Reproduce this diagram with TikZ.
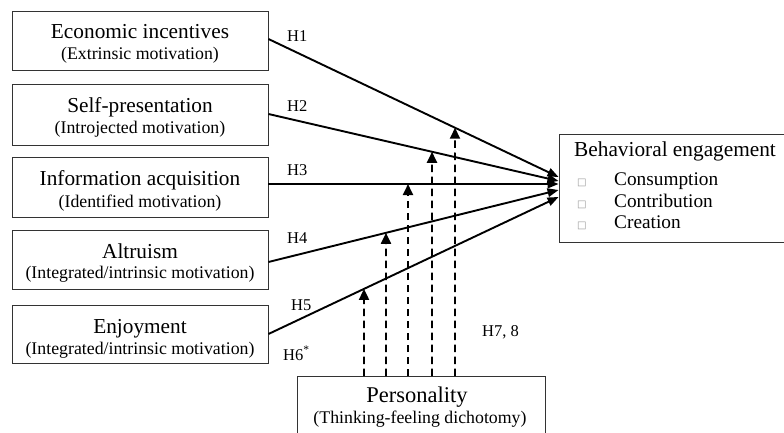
\documentclass[tikz,border=0pt]{standalone}
\usepackage{fontspec}
\setmainfont{Liberation Serif}
\newfontfamily\symfont{DejaVu Sans}
\usetikzlibrary{arrows.meta,calc}
\tikzset{
  box/.style={draw=black!80, line width=0.9pt, rectangle, inner sep=0pt},
  maintxt/.style={anchor=base, font=\fontsize{21.3}{24}\selectfont, inner sep=0pt},
  subtxt/.style={anchor=base, font=\fontsize{17.8}{20}\selectfont, inner sep=0pt},
  itemtxt/.style={anchor=base west, font=\fontsize{19.3}{22}\selectfont, inner sep=0pt},
  sqtxt/.style={anchor=base west, font=\symfont\fontsize{10}{12}\selectfont, text=black!40, inner sep=0pt},
  hlab/.style={anchor=base west, font=\fontsize{16.5}{18}\selectfont, inner sep=0pt},
  effect/.style={line width=1.9pt, -{Triangle[length=11pt,width=8.5pt]}},
  modarrow/.style={line width=1.9pt, dash pattern=on 7.5pt off 4.5pt, -{Triangle[length=11pt,width=10pt]}},
}
\begin{document}
\begin{tikzpicture}[x=1pt,y=-1pt]
\useasboundingbox (0,0) rectangle (784,433);
\clip (0,0) rectangle (784,433);

% left boxes
\node[box, minimum width=256pt, minimum height=59pt] (e1) at (140,40.5) {};
\node[box, minimum width=256pt, minimum height=61pt] (e2) at (140,114.5) {};
\node[box, minimum width=256pt, minimum height=60pt] (e3) at (140,187) {};
\node[box, minimum width=256pt, minimum height=59pt] (e4) at (140,259.5) {};
\node[box, minimum width=256pt, minimum height=58pt] (e5) at (140,334) {};

\node[maintxt] (m1) at (140,39) {Economic incentives};
\node[subtxt]  (n1) at (140,60) {(Extrinsic motivation)};
\node[maintxt] (m2) at (140,113) {Self-presentation};
\node[subtxt]  (n2) at (140,134) {(Introjected motivation)};
\node[maintxt] (m3) at (140,185) {Information acquisition};
\node[subtxt]  (n3) at (140,207) {(Identified motivation)};
\node[maintxt] (m4) at (140,258) {Altruism};
\node[subtxt]  (n4) at (140,278) {(Integrated/intrinsic motivation)};
\node[maintxt] (m5) at (140,333) {Enjoyment};
\node[subtxt]  (n5) at (140,354) {(Integrated/intrinsic motivation)};

% outcome box
\node[box, minimum width=241pt, minimum height=108pt] (b) at (679.5,188) {};
\node[maintxt, anchor=base west] (bt) at (574,157) {Behavioral engagement};
\node[sqtxt] (q1) at (577,185) {□};
\node[sqtxt] (q2) at (577,207) {□};
\node[sqtxt] (q3) at (577,228) {□};
\node[itemtxt] (i1) at (614,185) {Consumption};
\node[itemtxt] (i2) at (614,207) {Contribution};
\node[itemtxt] (i3) at (614,228) {Creation};

% personality box
\node[box, minimum width=248pt, minimum height=74pt] (p) at (421,413) {};
\node[maintxt, font=\fontsize{22.5}{24}\selectfont] (pt) at (417,402) {Personality};
\node[subtxt] (ps) at (420,423) {(Thinking-feeling dichotomy)};

% start / end points of the direct effects
\coordinate (s1) at ($(e1.east)+(0,-1.5)$);
\coordinate (s2) at ($(e2.east)+(0,-0.5)$);
\coordinate (s3) at ($(e3.east)+(0,-3)$);
\coordinate (s4) at ($(e4.east)+(0,2.5)$);
\coordinate (s5) at (e5.east);
\coordinate (t1) at ($(b.west)+(0,-11)$);
\coordinate (t2) at ($(b.west)+(0,-7)$);
\coordinate (t3) at ($(b.west)+(0,-4)$);
\coordinate (t4) at ($(b.west)+(0,2)$);
\coordinate (t5) at ($(b.west)+(0,9)$);

\draw[effect] (s1) -- (t1);
\draw[effect] (s2) -- (t2);
\draw[effect] (s3) -- (t3);
\draw[effect] (s4) -- (t4);
\draw[effect] (s5) -- (t5);

% moderation arrows
\coordinate (d1) at (364,376); \coordinate (u1) at (364,0);
\coordinate (d2) at (386,376); \coordinate (u2) at (386,0);
\coordinate (d3) at (408,376); \coordinate (u3) at (408,0);
\coordinate (d4) at (432,376); \coordinate (u4) at (432,0);
\coordinate (d5) at (455,376); \coordinate (u5) at (455,0);
\draw[modarrow] (d1) -- (intersection of d1--u1 and s5--t5);
\draw[modarrow] (d2) -- (intersection of d2--u2 and s4--t4);
\draw[modarrow] (d3) -- (intersection of d3--u3 and s3--t3);
\draw[modarrow] (d4) -- (intersection of d4--u4 and s2--t2);
\draw[modarrow] (d5) -- (intersection of d5--u5 and s1--t1);

% labels
\node[hlab] (h1) at (287,42) {H1};
\node[hlab] (h2) at (287,112) {H2};
\node[hlab] (h3) at (287,175) {H3};
\node[hlab] (h4) at (287,243) {H4};
\node[hlab] (h5) at (291,310) {H5};
\node[hlab] (h6) at (283,360) {H6\textsuperscript{*}};
\node[hlab] (h78) at (482,336) {H7, 8};
\end{tikzpicture}
\end{document}
